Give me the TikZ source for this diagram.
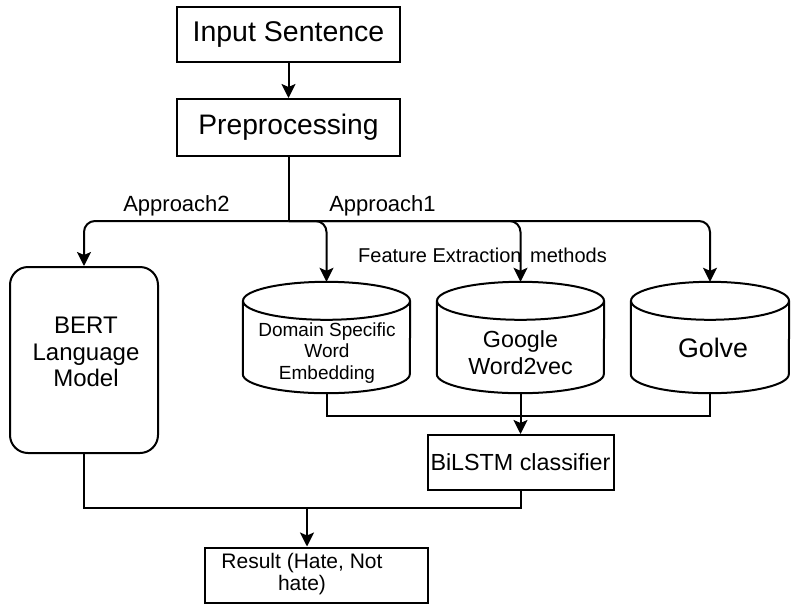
\documentclass[tikz,border=0pt]{standalone}
\usepackage{fontspec}
\setmainfont{Liberation Sans}
\usetikzlibrary{arrows.meta}
\newcommand\fsz[2]{\fontsize{#1pt}{#2pt}\selectfont}
\tikzset{
  ln/.style={line width=2pt, line cap=butt},
  arr/.style={ln, -{Stealth[length=14pt,width=14pt,inset=3pt]}},
  boxnode/.style={draw, ln, rectangle, inner sep=0pt},
  txt/.style={inner sep=0pt, align=center},
  cylbox/.style={rectangle, inner sep=0pt, minimum height=111pt},
}
\newcommand\drawcyl[2]{%
  \draw[ln] ([yshift=-19pt]#1.north west) -- ([yshift=19pt]#1.south west)
     arc[start angle=180, end angle=360, x radius=#2pt, y radius=19pt]
     -- ([yshift=-19pt]#1.north east);
  \draw[ln] ([yshift=-19pt]#1.north) ellipse[x radius=#2pt, y radius=19pt];
}
\begin{document}
\begin{tikzpicture}[x=1pt, y=-1pt]
\useasboundingbox (0,0) rectangle (793,603);
\fill[white] (0,0) rectangle (793,603);

% boxes
\node[boxnode, minimum width=223pt, minimum height=55pt, font=\fsz{28.5}{32}] (inp) at (288.5,34.5) {Input Sentence};
\node[boxnode, minimum width=223pt, minimum height=57pt, font=\fsz{28.2}{32}] (pre) at (288.5,127.5) {Preprocessing};
\node[boxnode, rounded corners=18pt, minimum width=148pt, minimum height=186pt] (bert) at (84,360) {};
\node[txt, font=\fsz{24}{26.5}] (bertt) at (86,352) {BERT\\Language\\Model};

% cylinders
\node[cylbox, minimum width=167pt] (c1) at (326.5,337.5) {};
\node[cylbox, minimum width=167pt] (c2) at (520.5,337.5) {};
\node[cylbox, minimum width=158pt] (c3) at (710,337.5) {};
\drawcyl{c1}{83.5}
\drawcyl{c2}{83.5}
\drawcyl{c3}{79}
\node[txt, font=\fsz{19}{21.5}] (c1t) at (327,353) {Domain Specific\\Word\\Embedding};
\node[txt, font=\fsz{23.3}{27}] (c2t) at (520.5,353) {Google\\Word2vec};
\node[txt, font=\fsz{26.8}{30}] (c3t) at (713,348) {Golve};

\node[boxnode, minimum width=186pt, minimum height=55pt, font=\fsz{23.3}{26}] (bil) at (520.5,462.5) {BiLSTM classifier};
\node[boxnode, minimum width=223pt, minimum height=55pt] (res) at (316.5,575) {};
\node[txt, font=\fsz{21}{22.5}] (rest) at (302,574) {Result (Hate, Not\\hate)};

% labels
\node[txt, font=\fsz{22}{24}] (ap2) at (176.5,206) {Approach2};
\node[txt, font=\fsz{22}{24}] (ap1) at (382.5,206) {Approach1};
\node[txt, font=\fsz{20}{22}] (fe) at (482.5,255) {Feature Extraction\hspace{3pt} methods};

% connectors
\coordinate (j) at (288.5,221);
\coordinate (m) at (520.5,416);
\coordinate (n) at (307,508);
\draw[arr] (inp.south) -- (pre.north);
\draw[ln] (pre.south) -- (j);
\draw[arr, rounded corners=11pt] (j) -| (bert.north);
\draw[arr, rounded corners=11pt] (j) -| (c1.north);
\draw[arr, rounded corners=11pt] (j) -| (c2.north);
\draw[arr, rounded corners=11pt] (j) -| (c3.north);
\draw[ln] (c1.south) |- (m) -| (c3.south);
\draw[arr] (c2.south) -- (bil.north);
\draw[ln] (bert.south) |- (n) -| (bil.south);
\draw[arr] (n) -- (n |- res.north);
\end{tikzpicture}
\end{document}
